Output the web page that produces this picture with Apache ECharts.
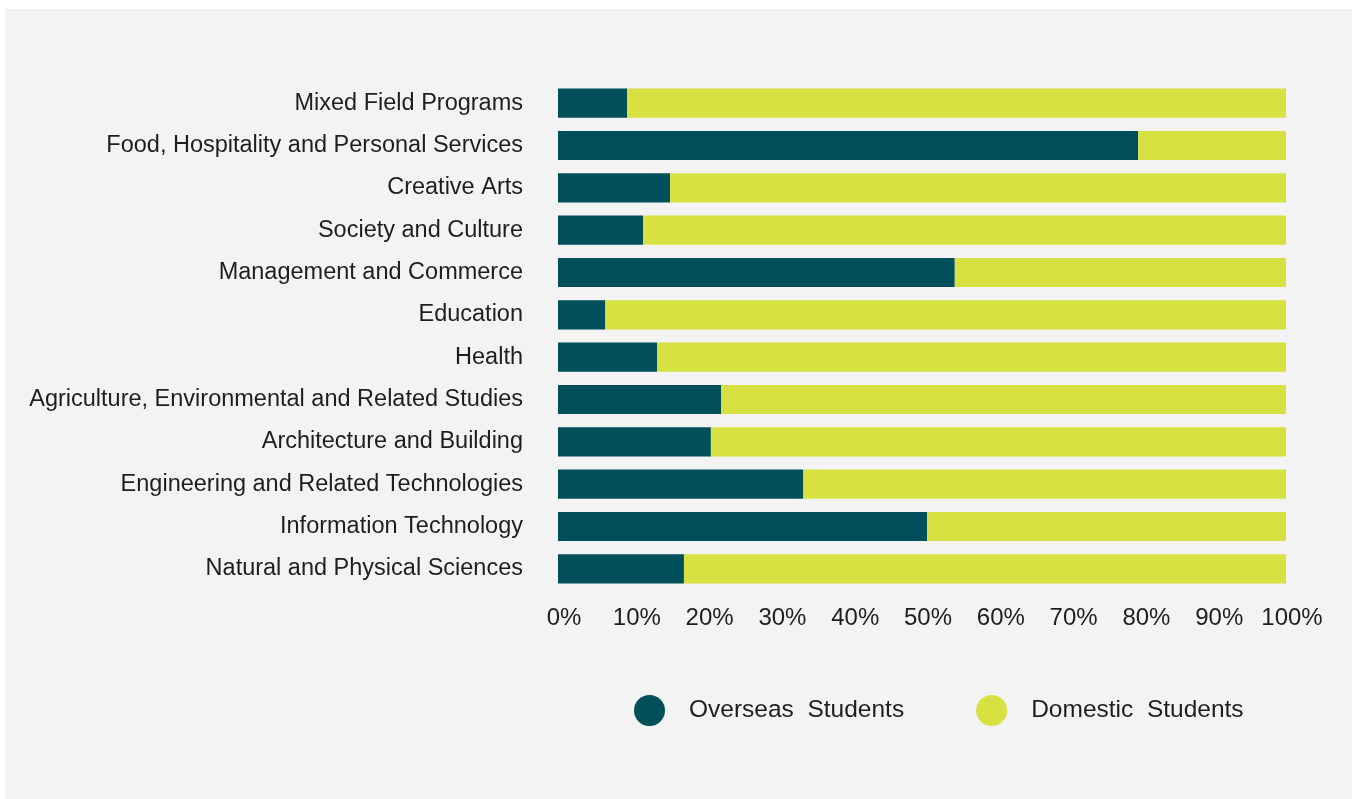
<!DOCTYPE html>
<html>
<head>
<meta charset="utf-8">
<script src="https://cdn.jsdelivr.net/npm/echarts@6/dist/echarts.min.js"></script>
<style>
  html, body { margin: 0; padding: 0; background: #ffffff; }
  #chart { width: 1359px; height: 799px; }
</style>
</head>
<body>
<div id="chart"></div>
<script>
// Fields of study, listed bottom to top as the category axis draws them
const categories = [
  'Natural and Physical Sciences',
  'Information Technology',
  'Engineering and Related Technologies',
  'Architecture and Building',
  'Agriculture, Environmental and Related Studies',
  'Health',
  'Education',
  'Management and Commerce',
  'Society and Culture',
  'Creative Arts',
  'Food, Hospitality and Personal Services',
  'Mixed Field Programs'
];

// Share of enrolments (%) per field
const overseas = [17.3, 50.7, 33.7, 21.0, 22.4, 13.6, 6.5, 54.5, 11.7, 15.4, 79.7, 9.5];
const domestic = [82.7, 49.3, 66.3, 79.0, 77.6, 86.4, 93.5, 45.5, 88.3, 84.6, 20.3, 90.5];

const seriesNames = ['Overseas  Students', 'Domestic  Students'];
const colors = ['#014f5a', '#d7e141'];

const FONT = '"Liberation Sans", Arial, Helvetica, sans-serif';
const TEXT = '#1e1e1e';

const chart = echarts.init(document.getElementById('chart'), null, { renderer: 'canvas' });

chart.setOption({
  backgroundColor: '#ffffff',
  animation: false,
  graphic: [{
    type: 'rect',
    z: -10,
    silent: true,
    shape: { x: 5, y: 9, width: 1347, height: 790 },
    style: { fill: '#f2f3f2' }
  }],
  legend: {
    top: 695,
    left: 634,
    padding: 0,
    itemWidth: 31,
    itemHeight: 31,
    itemGap: 72,
    icon: 'circle',
    textStyle: { fontFamily: FONT, fontSize: 24.5, color: TEXT, padding: [0, 0, 0, 19] },
    data: seriesNames
  },
  grid: {
    left: 558,
    right: 73,
    top: 82,
    bottom: 209,
    containLabel: false
  },
  xAxis: {
    type: 'value',
    min: 0,
    max: 100,
    interval: 10,
    axisLine: { show: false },
    axisTick: { show: false },
    splitLine: { show: false },
    axisLabel: {
      margin: 16,
      fontFamily: FONT,
      fontSize: 24,
      color: TEXT,
      padding: [0, 0, 0, 12],
      formatter: v => v + '%'
    }
  },
  yAxis: {
    type: 'category',
    data: categories,
    axisLine: { show: false },
    axisTick: { show: false },
    splitLine: { show: false },
    axisLabel: {
      margin: 35,
      fontFamily: FONT,
      fontSize: 23.5,
      color: TEXT
    }
  },
  series: [
    {
      name: seriesNames[0],
      type: 'bar',
      stack: 'total',
      data: overseas,
      barCategoryGap: '31%',
      itemStyle: { color: colors[0] }
    },
    {
      name: seriesNames[1],
      type: 'bar',
      stack: 'total',
      data: domestic,
      barCategoryGap: '31%',
      itemStyle: { color: colors[1] }
    }
  ]
});
</script>
</body>
</html>
